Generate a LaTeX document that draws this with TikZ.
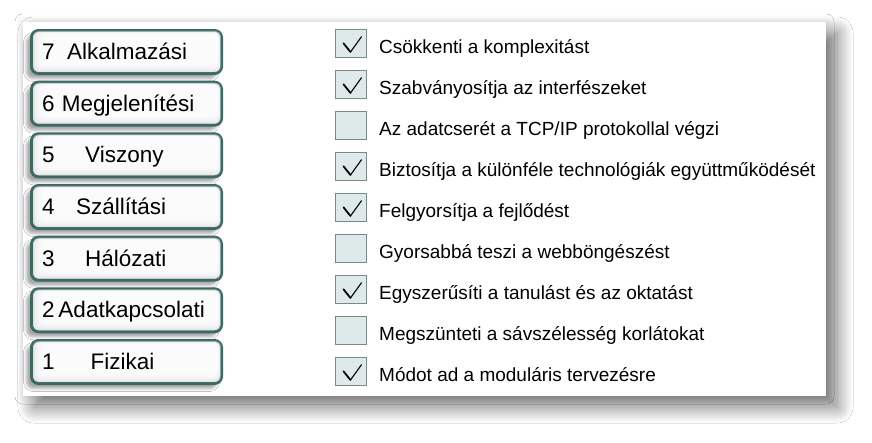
\documentclass[tikz,border=0pt]{standalone}
\usepackage{fontspec}
\setmainfont{Liberation Sans}
\usetikzlibrary{calc,shadows.blur}
\definecolor{tealline}{HTML}{3D6964}
\definecolor{cbfill}{HTML}{DEEAE9}
\definecolor{cbline}{HTML}{7C8787}
\begin{document}
\begin{tikzpicture}[x=1pt,y=-1pt,
  glow/.style={fill=white, blur shadow={shadow xshift=0pt,shadow yshift=0pt,shadow blur radius=8pt,shadow opacity=10,shadow blur steps=20}},
  panel/.style={fill=white, blur shadow={shadow xshift=11pt,shadow yshift=-11pt,shadow blur radius=16pt,shadow opacity=55,shadow blur steps=40}},
  layerbox/.style={draw=tealline, line width=3pt, rounded corners=7pt, minimum width=190pt, minimum height=43pt, inner sep=0pt, fill=gray!30,
     blur shadow={shadow xshift=-5pt, shadow yshift=-5pt, shadow blur radius=3pt, shadow opacity=35}},
  layertext/.style={anchor=base west, inner sep=0pt, font=\fontsize{22.5}{26}\selectfont},
  checkbox/.style={draw=cbline, line width=1pt, fill=cbfill, minimum width=31pt, minimum height=28pt, inner sep=0pt},
  itemtext/.style={anchor=base west, inner sep=0pt, font=\fontsize{19}{22}\selectfont},
  tick/.style={line width=1.1pt, line cap=round, line join=round, draw=black}
]
\useasboundingbox (0,0) rectangle (872,442);
\fill[white] (0,0) rectangle (872,442);
% panel
\path[glow] (23,22) rectangle (826,396);
\path[panel] (23,22) rectangle (826,396);

% layer boxes
\foreach \nm/\yc/\num/\gap/\word in {
  L7/52/7/12.5/Alkalmazási,
  L6/103.7/6/7.2/Megjelenítési,
  L5/155.3/5/30.5/Viszony,
  L4/207/4/21.5/Szállítási,
  L3/258.7/3/30.5/Hálózati,
  L2/310.3/2/3.8/Adatkapcsolati,
  L1/362/1/36/Fizikai}{
  \node[layerbox] (\nm) at (126.5,\yc) {};
  \foreach \k in {1,...,7}{
    \fill[white, opacity=0.33, rounded corners=5pt]
      ($(\nm.south west)+(1.5+\k*1.6,-1.5-\k*1.4)$) rectangle ($(\nm.north east)+(-1.5-\k*0.6,1.5+\k*0.45)$);
  }
  \node[layertext] (\nm t) at (42,\yc+7.5) {\num\hspace{\gap pt}\word};
}

% checklist
\foreach \i/\chk/\txt in {
  1/1/{Csökkenti a komplexitást},
  2/1/{Szabványosítja az interfészeket},
  3/0/{Az adatcserét a TCP/IP protokollal végzi},
  4/1/{Biztosítja a különféle technológiák együttműködését},
  5/1/{Felgyorsítja a fejlődést},
  6/0/{Gyorsabbá teszi a webböngészést},
  7/1/{Egyszerűsíti a tanulást és az oktatást},
  8/0/{Megszünteti a sávszélesség korlátokat},
  9/1/{Módot ad a moduláris tervezésre}}{
  \pgfmathsetmacro{\yy}{43.5+41*(\i-1)}
  \node[checkbox] (cb\i) at (351,\yy) {};
  \ifnum\chk=1
    \draw[tick, line width=1.8pt] ($(cb\i.center)+(-7.5,-0.2)$) -- ($(cb\i.center)+(-0.6,8.4)$);
    \draw[tick] ($(cb\i.center)+(-0.6,8.6)$) -- ($(cb\i.center)+(10.5,-6.8)$);
  \fi
  \node[itemtext] (t\i) at (379,\yy+10) {\txt};
}
\end{tikzpicture}
\end{document}
